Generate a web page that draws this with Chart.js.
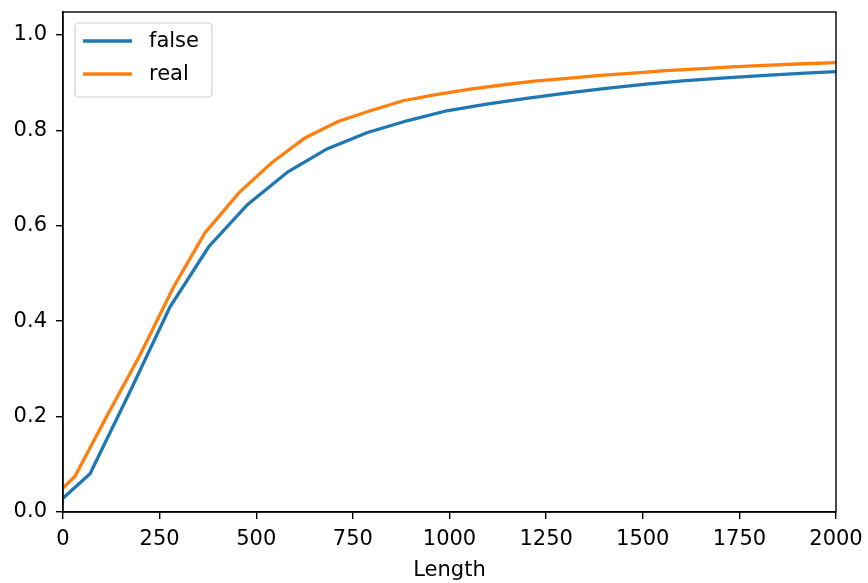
<!DOCTYPE html>
<html>
<head>
<meta charset="utf-8">
<script src="https://cdn.jsdelivr.net/npm/chart.js@4.4.0/dist/chart.umd.min.js"></script>
<style>
  html, body { margin: 0; padding: 0; background: #fff; }
  #wrap { width: 868px; height: 583px; }
</style>
</head>
<body>
<div id="wrap"><canvas id="chart"></canvas></div>
<script>
// Data
let falseLength = [0, 70, 175, 277, 377, 477, 582, 683, 786, 890, 993, 1096, 1199, 1302, 1405, 1508, 1611, 1714, 1817, 1920, 2000];
let falseValue  = [0.029, 0.080, 0.255, 0.430, 0.556, 0.644, 0.713, 0.761, 0.795, 0.820, 0.841, 0.855, 0.867, 0.878, 0.888, 0.897, 0.904, 0.910, 0.915, 0.920, 0.923];

let realLength = [0, 31, 116, 200, 285, 367, 455, 540, 626, 710, 795, 880, 965, 1050, 1135, 1220, 1305, 1390, 1475, 1560, 1645, 1730, 1815, 1900, 2000];
let realValue  = [0.050, 0.075, 0.205, 0.330, 0.470, 0.585, 0.669, 0.732, 0.784, 0.818, 0.841, 0.862, 0.875, 0.886, 0.895, 0.903, 0.909, 0.915, 0.920, 0.925, 0.929, 0.933, 0.936, 0.939, 0.942];

let xTicks = [0, 250, 500, 750, 1000, 1250, 1500, 1750, 2000];
let yTicks = [0, 0.2, 0.4, 0.6, 0.8, 1.0];

let seriesNames = ['false', 'real'];
let seriesColors = ['#1f77b4', '#ff7f0e'];

const FONT = 'DejaVu Sans';
Chart.defaults.font.family = FONT;
Chart.defaults.font.size = 21;
Chart.defaults.color = '#000';

function toPoints(xs, ys) {
    return xs.map((x, i) => ({ x: x, y: ys[i] }));
}

// Box round the plot area and the legend inside it
const framePlugin = {
    id: 'frame',
    afterDatasetsDraw(chart) {
        const { ctx, chartArea: a } = chart;
        ctx.save();
        ctx.strokeStyle = '#000';
        ctx.lineWidth = 1.4;
        ctx.strokeRect(a.left, a.top, a.right - a.left, a.bottom - a.top);

        // legend box
        const bx = 75, by = 23, bw = 137, bh = 74, r = 4;
        ctx.beginPath();
        ctx.roundRect(bx, by, bw, bh, r);
        ctx.fillStyle = 'rgba(255,255,255,0.8)';
        ctx.fill();
        ctx.strokeStyle = '#d0d0d0';
        ctx.lineWidth = 1.2;
        ctx.stroke();

        ctx.font = '21px "' + FONT + '"';
        ctx.textBaseline = 'middle';
        ctx.textAlign = 'left';
        seriesNames.forEach((name, i) => {
            const y = 41 + i * 33;
            ctx.beginPath();
            ctx.moveTo(83, y);
            ctx.lineTo(132, y);
            ctx.strokeStyle = seriesColors[i];
            ctx.lineWidth = 3.3;
            ctx.stroke();
            ctx.fillStyle = '#000';
            ctx.fillText(name, 149, y + 1);
        });
        ctx.restore();
    }
};

new Chart(document.getElementById('chart'), {
    type: 'line',
    data: {
        datasets: [
            {
                label: seriesNames[0],
                data: toPoints(falseLength, falseValue),
                borderColor: seriesColors[0],
                borderWidth: 3.3,
                pointRadius: 0,
                tension: 0,
                fill: false
            },
            {
                label: seriesNames[1],
                data: toPoints(realLength, realValue),
                borderColor: seriesColors[1],
                borderWidth: 3.3,
                pointRadius: 0,
                tension: 0,
                fill: false
            }
        ]
    },
    options: {
        responsive: true,
        maintainAspectRatio: false,
        animation: false,
        layout: { padding: { top: 12, right: 32, left: 0, bottom: 0 } },
        plugins: {
            legend: { display: false },
            tooltip: { enabled: false }
        },
        scales: {
            x: {
                type: 'linear',
                min: 0,
                max: 2000,
                afterBuildTicks: (axis) => { axis.ticks = xTicks.map(v => ({ value: v })); },
                afterFit: (scale) => { scale.height = 71; scale.paddingLeft = 0; scale.paddingRight = 0; },
                ticks: { padding: 8, maxRotation: 0, autoSkip: false, callback: (v) => String(v) },
                grid: { display: true, drawOnChartArea: false, drawTicks: true, tickLength: 7, color: '#000', lineWidth: 1.4 },
                border: { display: true, color: '#000', width: 1.4 },
                title: { display: true, text: 'Length', padding: { top: 0, bottom: 0 }, font: { size: 21 } }
            },
            y: {
                type: 'linear',
                min: 0,
                max: 1.048,
                afterBuildTicks: (axis) => { axis.ticks = yTicks.map(v => ({ value: v })); },
                afterFit: (scale) => { scale.width = 63; scale.paddingTop = 0; scale.paddingBottom = 0; },
                ticks: { padding: 9, autoSkip: false, callback: (v) => v.toFixed(1) },
                grid: { display: true, drawOnChartArea: false, drawTicks: true, tickLength: 7, color: '#000', lineWidth: 1.4 },
                border: { display: true, color: '#000', width: 1.4 }
            }
        }
    },
    plugins: [framePlugin]
});
</script>
</body>
</html>
